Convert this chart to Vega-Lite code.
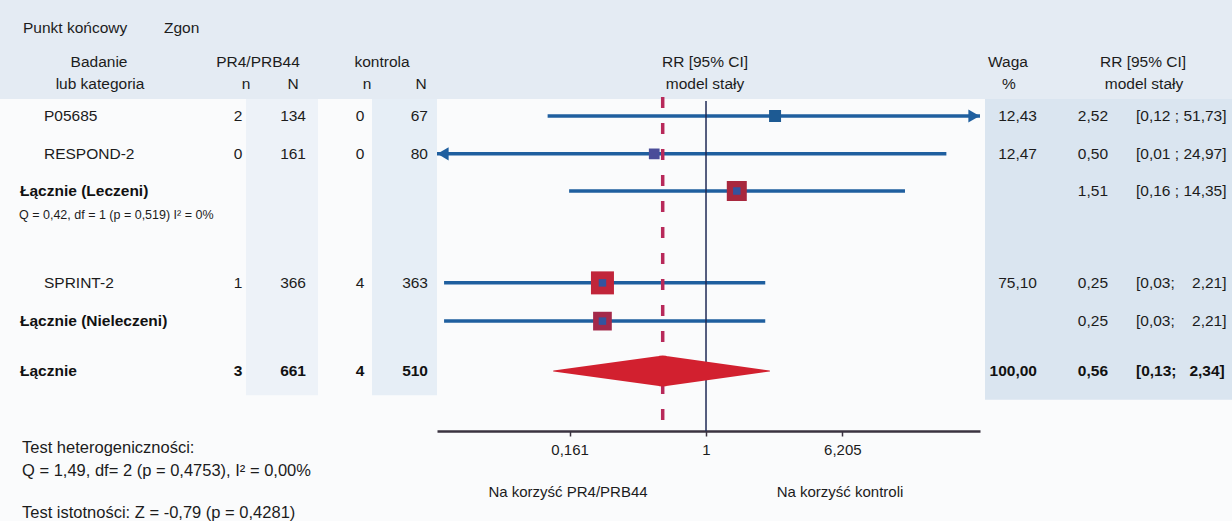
{
  "$schema": "https://vega.github.io/schema/vega-lite/v6.json",
  "width": 1232,
  "height": 521,
  "autosize": {"type": "none"},
  "padding": 0,
  "background": "#fafbfc",
  "config": {
    "view": {"stroke": null},
    "locale": {"number": {"decimal": ",", "thousands": "\u00a0", "grouping": [3], "currency": ["", " zł"]}},
    "text": {"font": "Liberation Sans", "fontSize": 15.5, "color": "#1c1c1c", "baseline": "middle"}
  },
  "datasets": {
    "rows": [
      {"label": "P05685", "kind": "study", "pos": 1, "n1": 2, "N1": 134, "n2": 0, "N2": 67, "w": 12.43, "rr": 2.52, "lo": 0.12, "hi": 51.73, "ci": "[0,12 ; 51,73]"},
      {"label": "RESPOND-2", "kind": "study", "pos": 2.01, "n1": 0, "N1": 161, "n2": 0, "N2": 80, "w": 12.47, "rr": 0.50, "lo": 0.01, "hi": 24.97, "ci": "[0,01 ; 24,97]"},
      {"label": "Łącznie (Leczeni)", "kind": "sub", "pos": 3, "rr": 1.51, "lo": 0.16, "hi": 14.35, "ci": "[0,16 ; 14,35]"},
      {"label": "SPRINT-2", "kind": "study", "pos": 5.45, "n1": 1, "N1": 366, "n2": 4, "N2": 363, "w": 75.10, "rr": 0.25, "lo": 0.03, "hi": 2.21, "ci": "[0,03;\u00a0\u00a0\u00a0\u00a02,21]"},
      {"label": "Łącznie (Nieleczeni)", "kind": "sub", "pos": 6.47, "rr": 0.25, "lo": 0.03, "hi": 2.21, "ci": "[0,03;\u00a0\u00a0\u00a0\u00a02,21]"},
      {"label": "Łącznie", "kind": "total", "pos": 7.8, "n1": 3, "N1": 661, "n2": 4, "N2": 510, "w": 100.00, "rr": 0.56, "lo": 0.13, "hi": 2.34, "ci": "[0,13;\u00a0\u00a0\u00a02,34]"}
    ]
  },
  "data": {"name": "rows"},
  "resolve": {"scale": {"x": "independent", "size": "independent", "color": "independent"}, "axis": {"x": "independent"}},
  "layer": [
    {"data": {"values": [{}]}, "mark": {"type": "rect", "fill": "#e4ebf3"},
     "encoding": {"x": {"datum": 0, "type": "quantitative", "scale": {"domain": [0, 1232], "nice": false, "zero": false}, "axis": null}, "x2": {"datum": 1232},
                  "y": {"datum": -2.0933, "type": "quantitative", "scale": {"domain": [-2.0933, 11.8], "reverse": true, "nice": false, "zero": false}, "axis": null}, "y2": {"datum": 0.55}}},
    {"data": {"values": [{}]}, "mark": {"type": "rect", "fill": "#dae5f0"},
     "encoding": {"x": {"datum": 985, "type": "quantitative", "scale": {"domain": [0, 1232], "nice": false, "zero": false}, "axis": null}, "x2": {"datum": 1232},
                  "y": {"datum": 0.55, "type": "quantitative", "scale": {"domain": [-2.0933, 11.8], "reverse": true, "nice": false, "zero": false}, "axis": null}, "y2": {"datum": 8.57}}},
    {"data": {"values": [{}]}, "mark": {"type": "rect", "fill": "#edf2f8"},
     "encoding": {"x": {"datum": 246, "type": "quantitative", "scale": {"domain": [0, 1232], "nice": false, "zero": false}, "axis": null}, "x2": {"datum": 318},
                  "y": {"datum": 0.55, "type": "quantitative", "scale": {"domain": [-2.0933, 11.8], "reverse": true, "nice": false, "zero": false}, "axis": null}, "y2": {"datum": 8.45}}},
    {"data": {"values": [{}]}, "mark": {"type": "rect", "fill": "#e6eef6"},
     "encoding": {"x": {"datum": 372, "type": "quantitative", "scale": {"domain": [0, 1232], "nice": false, "zero": false}, "axis": null}, "x2": {"datum": 437},
                  "y": {"datum": 0.55, "type": "quantitative", "scale": {"domain": [-2.0933, 11.8], "reverse": true, "nice": false, "zero": false}, "axis": null}, "y2": {"datum": 8.45}}},

    {"data": {"values": [{}]}, "mark": {"type": "text", "text": "Punkt końcowy", "align": "left"},
     "encoding": {"x": {"datum": 23, "type": "quantitative", "scale": {"domain": [0, 1232], "nice": false, "zero": false}, "axis": null},
                  "y": {"datum": -1.3467, "type": "quantitative", "scale": {"domain": [-2.0933, 11.8], "reverse": true, "nice": false, "zero": false}, "axis": null}}},
    {"data": {"values": [{}]}, "mark": {"type": "text", "text": "Zgon", "align": "left"},
     "encoding": {"x": {"datum": 164, "type": "quantitative", "scale": {"domain": [0, 1232], "nice": false, "zero": false}, "axis": null},
                  "y": {"datum": -1.3467, "type": "quantitative", "scale": {"domain": [-2.0933, 11.8], "reverse": true, "nice": false, "zero": false}, "axis": null}}},
    {"data": {"values": [{}]}, "mark": {"type": "text", "text": "Badanie", "align": "center"},
     "encoding": {"x": {"datum": 99, "type": "quantitative", "scale": {"domain": [0, 1232], "nice": false, "zero": false}, "axis": null},
                  "y": {"datum": -0.44, "type": "quantitative", "scale": {"domain": [-2.0933, 11.8], "reverse": true, "nice": false, "zero": false}, "axis": null}}},
    {"data": {"values": [{}]}, "mark": {"type": "text", "text": "lub kategoria", "align": "center"},
     "encoding": {"x": {"datum": 100, "type": "quantitative", "scale": {"domain": [0, 1232], "nice": false, "zero": false}, "axis": null},
                  "y": {"datum": 0.1467, "type": "quantitative", "scale": {"domain": [-2.0933, 11.8], "reverse": true, "nice": false, "zero": false}, "axis": null}}},
    {"data": {"values": [{}]}, "mark": {"type": "text", "text": "PR4/PRB44", "align": "center"},
     "encoding": {"x": {"datum": 258, "type": "quantitative", "scale": {"domain": [0, 1232], "nice": false, "zero": false}, "axis": null},
                  "y": {"datum": -0.44, "type": "quantitative", "scale": {"domain": [-2.0933, 11.8], "reverse": true, "nice": false, "zero": false}, "axis": null}}},
    {"data": {"values": [{}]}, "mark": {"type": "text", "text": "kontrola", "align": "center"},
     "encoding": {"x": {"datum": 382, "type": "quantitative", "scale": {"domain": [0, 1232], "nice": false, "zero": false}, "axis": null},
                  "y": {"datum": -0.44, "type": "quantitative", "scale": {"domain": [-2.0933, 11.8], "reverse": true, "nice": false, "zero": false}, "axis": null}}},
    {"data": {"values": [{}]}, "mark": {"type": "text", "text": "n", "align": "center"},
     "encoding": {"x": {"datum": 246, "type": "quantitative", "scale": {"domain": [0, 1232], "nice": false, "zero": false}, "axis": null},
                  "y": {"datum": 0.1467, "type": "quantitative", "scale": {"domain": [-2.0933, 11.8], "reverse": true, "nice": false, "zero": false}, "axis": null}}},
    {"data": {"values": [{}]}, "mark": {"type": "text", "text": "N", "align": "center"},
     "encoding": {"x": {"datum": 293, "type": "quantitative", "scale": {"domain": [0, 1232], "nice": false, "zero": false}, "axis": null},
                  "y": {"datum": 0.1467, "type": "quantitative", "scale": {"domain": [-2.0933, 11.8], "reverse": true, "nice": false, "zero": false}, "axis": null}}},
    {"data": {"values": [{}]}, "mark": {"type": "text", "text": "n", "align": "center"},
     "encoding": {"x": {"datum": 367, "type": "quantitative", "scale": {"domain": [0, 1232], "nice": false, "zero": false}, "axis": null},
                  "y": {"datum": 0.1467, "type": "quantitative", "scale": {"domain": [-2.0933, 11.8], "reverse": true, "nice": false, "zero": false}, "axis": null}}},
    {"data": {"values": [{}]}, "mark": {"type": "text", "text": "N", "align": "center"},
     "encoding": {"x": {"datum": 421, "type": "quantitative", "scale": {"domain": [0, 1232], "nice": false, "zero": false}, "axis": null},
                  "y": {"datum": 0.1467, "type": "quantitative", "scale": {"domain": [-2.0933, 11.8], "reverse": true, "nice": false, "zero": false}, "axis": null}}},
    {"data": {"values": [{}]}, "mark": {"type": "text", "text": "RR [95% CI]", "align": "center"},
     "encoding": {"x": {"datum": 705, "type": "quantitative", "scale": {"domain": [0, 1232], "nice": false, "zero": false}, "axis": null},
                  "y": {"datum": -0.44, "type": "quantitative", "scale": {"domain": [-2.0933, 11.8], "reverse": true, "nice": false, "zero": false}, "axis": null}}},
    {"data": {"values": [{}]}, "mark": {"type": "text", "text": "model stały", "align": "center"},
     "encoding": {"x": {"datum": 705, "type": "quantitative", "scale": {"domain": [0, 1232], "nice": false, "zero": false}, "axis": null},
                  "y": {"datum": 0.1467, "type": "quantitative", "scale": {"domain": [-2.0933, 11.8], "reverse": true, "nice": false, "zero": false}, "axis": null}}},
    {"data": {"values": [{}]}, "mark": {"type": "text", "text": "Waga", "align": "center"},
     "encoding": {"x": {"datum": 1008, "type": "quantitative", "scale": {"domain": [0, 1232], "nice": false, "zero": false}, "axis": null},
                  "y": {"datum": -0.44, "type": "quantitative", "scale": {"domain": [-2.0933, 11.8], "reverse": true, "nice": false, "zero": false}, "axis": null}}},
    {"data": {"values": [{}]}, "mark": {"type": "text", "text": "%", "align": "center"},
     "encoding": {"x": {"datum": 1009, "type": "quantitative", "scale": {"domain": [0, 1232], "nice": false, "zero": false}, "axis": null},
                  "y": {"datum": 0.1467, "type": "quantitative", "scale": {"domain": [-2.0933, 11.8], "reverse": true, "nice": false, "zero": false}, "axis": null}}},
    {"data": {"values": [{}]}, "mark": {"type": "text", "text": "RR [95% CI]", "align": "center"},
     "encoding": {"x": {"datum": 1143, "type": "quantitative", "scale": {"domain": [0, 1232], "nice": false, "zero": false}, "axis": null},
                  "y": {"datum": -0.44, "type": "quantitative", "scale": {"domain": [-2.0933, 11.8], "reverse": true, "nice": false, "zero": false}, "axis": null}}},
    {"data": {"values": [{}]}, "mark": {"type": "text", "text": "model stały", "align": "center"},
     "encoding": {"x": {"datum": 1144, "type": "quantitative", "scale": {"domain": [0, 1232], "nice": false, "zero": false}, "axis": null},
                  "y": {"datum": 0.1467, "type": "quantitative", "scale": {"domain": [-2.0933, 11.8], "reverse": true, "nice": false, "zero": false}, "axis": null}}},
    {"data": {"values": [{}]}, "mark": {"type": "text", "text": "Q = 0,42, df = 1 (p = 0,519) I² = 0%", "align": "left", "fontSize": 12.5},
     "encoding": {"x": {"datum": 19, "type": "quantitative", "scale": {"domain": [0, 1232], "nice": false, "zero": false}, "axis": null},
                  "y": {"datum": 3.64, "type": "quantitative", "scale": {"domain": [-2.0933, 11.8], "reverse": true, "nice": false, "zero": false}, "axis": null}}},
    {"data": {"values": [{}]}, "mark": {"type": "text", "text": "Test heterogeniczności:", "align": "left", "fontSize": 16.5},
     "encoding": {"x": {"datum": 22, "type": "quantitative", "scale": {"domain": [0, 1232], "nice": false, "zero": false}, "axis": null},
                  "y": {"datum": 9.853, "type": "quantitative", "scale": {"domain": [-2.0933, 11.8], "reverse": true, "nice": false, "zero": false}, "axis": null}}},
    {"data": {"values": [{}]}, "mark": {"type": "text", "text": "Q = 1,49, df= 2 (p = 0,4753), I² = 0,00%", "align": "left", "fontSize": 16.5},
     "encoding": {"x": {"datum": 22, "type": "quantitative", "scale": {"domain": [0, 1232], "nice": false, "zero": false}, "axis": null},
                  "y": {"datum": 10.467, "type": "quantitative", "scale": {"domain": [-2.0933, 11.8], "reverse": true, "nice": false, "zero": false}, "axis": null}}},
    {"data": {"values": [{}]}, "mark": {"type": "text", "text": "Test istotności: Z = -0,79 (p = 0,4281)", "align": "left", "fontSize": 16.5},
     "encoding": {"x": {"datum": 22, "type": "quantitative", "scale": {"domain": [0, 1232], "nice": false, "zero": false}, "axis": null},
                  "y": {"datum": 11.587, "type": "quantitative", "scale": {"domain": [-2.0933, 11.8], "reverse": true, "nice": false, "zero": false}, "axis": null}}},
    {"data": {"values": [{}]}, "mark": {"type": "text", "text": "Na korzyść PR4/PRB44", "align": "center", "fontSize": 15},
     "encoding": {"x": {"datum": 568, "type": "quantitative", "scale": {"domain": [0, 1232], "nice": false, "zero": false}, "axis": null},
                  "y": {"datum": 11.027, "type": "quantitative", "scale": {"domain": [-2.0933, 11.8], "reverse": true, "nice": false, "zero": false}, "axis": null}}},
    {"data": {"values": [{}]}, "mark": {"type": "text", "text": "Na korzyść kontroli", "align": "center", "fontSize": 15},
     "encoding": {"x": {"datum": 840, "type": "quantitative", "scale": {"domain": [0, 1232], "nice": false, "zero": false}, "axis": null},
                  "y": {"datum": 11.027, "type": "quantitative", "scale": {"domain": [-2.0933, 11.8], "reverse": true, "nice": false, "zero": false}, "axis": null}}},

    {"transform": [{"filter": "datum.kind == 'study'"}], "mark": {"type": "text", "align": "left"},
     "encoding": {"text": {"field": "label"}, "x": {"datum": 44, "type": "quantitative", "scale": {"domain": [0, 1232], "nice": false, "zero": false}, "axis": null},
                  "y": {"field": "pos", "type": "quantitative", "scale": {"domain": [-2.0933, 11.8], "reverse": true, "nice": false, "zero": false}, "axis": null}}},
    {"transform": [{"filter": "datum.kind != 'study'"}], "mark": {"type": "text", "align": "left", "fontWeight": "bold", "color": "#111111"},
     "encoding": {"text": {"field": "label"}, "x": {"datum": 20, "type": "quantitative", "scale": {"domain": [0, 1232], "nice": false, "zero": false}, "axis": null},
                  "y": {"field": "pos", "type": "quantitative", "scale": {"domain": [-2.0933, 11.8], "reverse": true, "nice": false, "zero": false}, "axis": null}}},

    {"transform": [{"filter": "datum.kind == 'study'"}], "mark": {"type": "text", "align": "center"},
     "encoding": {"text": {"field": "n1", "type": "quantitative", "format": "d"}, "x": {"datum": 238, "type": "quantitative", "scale": {"domain": [0, 1232], "nice": false, "zero": false}, "axis": null},
                  "y": {"field": "pos", "type": "quantitative", "scale": {"domain": [-2.0933, 11.8], "reverse": true, "nice": false, "zero": false}, "axis": null}}},
    {"transform": [{"filter": "datum.kind == 'study'"}], "mark": {"type": "text", "align": "right"},
     "encoding": {"text": {"field": "N1", "type": "quantitative", "format": "d"}, "x": {"datum": 306, "type": "quantitative", "scale": {"domain": [0, 1232], "nice": false, "zero": false}, "axis": null},
                  "y": {"field": "pos", "type": "quantitative", "scale": {"domain": [-2.0933, 11.8], "reverse": true, "nice": false, "zero": false}, "axis": null}}},
    {"transform": [{"filter": "datum.kind == 'study'"}], "mark": {"type": "text", "align": "center"},
     "encoding": {"text": {"field": "n2", "type": "quantitative", "format": "d"}, "x": {"datum": 360, "type": "quantitative", "scale": {"domain": [0, 1232], "nice": false, "zero": false}, "axis": null},
                  "y": {"field": "pos", "type": "quantitative", "scale": {"domain": [-2.0933, 11.8], "reverse": true, "nice": false, "zero": false}, "axis": null}}},
    {"transform": [{"filter": "datum.kind == 'study'"}], "mark": {"type": "text", "align": "right"},
     "encoding": {"text": {"field": "N2", "type": "quantitative", "format": "d"}, "x": {"datum": 428, "type": "quantitative", "scale": {"domain": [0, 1232], "nice": false, "zero": false}, "axis": null},
                  "y": {"field": "pos", "type": "quantitative", "scale": {"domain": [-2.0933, 11.8], "reverse": true, "nice": false, "zero": false}, "axis": null}}},

    {"transform": [{"filter": "datum.kind == 'total'"}], "mark": {"type": "text", "align": "center", "fontWeight": "bold", "color": "#111111"},
     "encoding": {"text": {"field": "n1", "type": "quantitative", "format": "d"}, "x": {"datum": 238, "type": "quantitative", "scale": {"domain": [0, 1232], "nice": false, "zero": false}, "axis": null},
                  "y": {"field": "pos", "type": "quantitative", "scale": {"domain": [-2.0933, 11.8], "reverse": true, "nice": false, "zero": false}, "axis": null}}},
    {"transform": [{"filter": "datum.kind == 'total'"}], "mark": {"type": "text", "align": "right", "fontWeight": "bold", "color": "#111111"},
     "encoding": {"text": {"field": "N1", "type": "quantitative", "format": "d"}, "x": {"datum": 306, "type": "quantitative", "scale": {"domain": [0, 1232], "nice": false, "zero": false}, "axis": null},
                  "y": {"field": "pos", "type": "quantitative", "scale": {"domain": [-2.0933, 11.8], "reverse": true, "nice": false, "zero": false}, "axis": null}}},
    {"transform": [{"filter": "datum.kind == 'total'"}], "mark": {"type": "text", "align": "center", "fontWeight": "bold", "color": "#111111"},
     "encoding": {"text": {"field": "n2", "type": "quantitative", "format": "d"}, "x": {"datum": 360, "type": "quantitative", "scale": {"domain": [0, 1232], "nice": false, "zero": false}, "axis": null},
                  "y": {"field": "pos", "type": "quantitative", "scale": {"domain": [-2.0933, 11.8], "reverse": true, "nice": false, "zero": false}, "axis": null}}},
    {"transform": [{"filter": "datum.kind == 'total'"}], "mark": {"type": "text", "align": "right", "fontWeight": "bold", "color": "#111111"},
     "encoding": {"text": {"field": "N2", "type": "quantitative", "format": "d"}, "x": {"datum": 428, "type": "quantitative", "scale": {"domain": [0, 1232], "nice": false, "zero": false}, "axis": null},
                  "y": {"field": "pos", "type": "quantitative", "scale": {"domain": [-2.0933, 11.8], "reverse": true, "nice": false, "zero": false}, "axis": null}}},

    {"transform": [{"filter": "datum.kind == 'study'"}], "mark": {"type": "text", "align": "right"},
     "encoding": {"text": {"field": "w", "type": "quantitative", "format": ".2f"}, "x": {"datum": 1037, "type": "quantitative", "scale": {"domain": [0, 1232], "nice": false, "zero": false}, "axis": null},
                  "y": {"field": "pos", "type": "quantitative", "scale": {"domain": [-2.0933, 11.8], "reverse": true, "nice": false, "zero": false}, "axis": null}}},
    {"transform": [{"filter": "datum.kind != 'total'"}], "mark": {"type": "text", "align": "right"},
     "encoding": {"text": {"field": "rr", "type": "quantitative", "format": ".2f"}, "x": {"datum": 1108, "type": "quantitative", "scale": {"domain": [0, 1232], "nice": false, "zero": false}, "axis": null},
                  "y": {"field": "pos", "type": "quantitative", "scale": {"domain": [-2.0933, 11.8], "reverse": true, "nice": false, "zero": false}, "axis": null}}},
    {"transform": [{"filter": "datum.kind != 'total'"}], "mark": {"type": "text", "align": "left"},
     "encoding": {"text": {"field": "ci"}, "x": {"datum": 1136, "type": "quantitative", "scale": {"domain": [0, 1232], "nice": false, "zero": false}, "axis": null},
                  "y": {"field": "pos", "type": "quantitative", "scale": {"domain": [-2.0933, 11.8], "reverse": true, "nice": false, "zero": false}, "axis": null}}},

    {"transform": [{"filter": "datum.kind == 'total'"}], "mark": {"type": "text", "align": "right", "fontWeight": "bold", "color": "#111111"},
     "encoding": {"text": {"field": "w", "type": "quantitative", "format": ".2f"}, "x": {"datum": 1037, "type": "quantitative", "scale": {"domain": [0, 1232], "nice": false, "zero": false}, "axis": null},
                  "y": {"field": "pos", "type": "quantitative", "scale": {"domain": [-2.0933, 11.8], "reverse": true, "nice": false, "zero": false}, "axis": null}}},
    {"transform": [{"filter": "datum.kind == 'total'"}], "mark": {"type": "text", "align": "right", "fontWeight": "bold", "color": "#111111"},
     "encoding": {"text": {"field": "rr", "type": "quantitative", "format": ".2f"}, "x": {"datum": 1108, "type": "quantitative", "scale": {"domain": [0, 1232], "nice": false, "zero": false}, "axis": null},
                  "y": {"field": "pos", "type": "quantitative", "scale": {"domain": [-2.0933, 11.8], "reverse": true, "nice": false, "zero": false}, "axis": null}}},
    {"transform": [{"filter": "datum.kind == 'total'"}], "mark": {"type": "text", "align": "left", "fontWeight": "bold", "color": "#111111"},
     "encoding": {"text": {"field": "ci"}, "x": {"datum": 1136, "type": "quantitative", "scale": {"domain": [0, 1232], "nice": false, "zero": false}, "axis": null},
                  "y": {"field": "pos", "type": "quantitative", "scale": {"domain": [-2.0933, 11.8], "reverse": true, "nice": false, "zero": false}, "axis": null}}},

    {"transform": [{"filter": "datum.kind != 'total'"}], "mark": {"type": "rule", "color": "#1f5f9f", "strokeWidth": 3.5},
     "encoding": {"x": {"field": "lo", "type": "quantitative", "scale": {"type": "log", "domain": [0.02729, 39.17], "range": [437, 980], "clamp": true, "nice": false},
                        "axis": {"orient": "bottom", "offset": -90, "values": [0.161, 1, 6.205], "labelExpr": "replace(format(datum.value, '.4~g'), '.', ',')", "title": null, "grid": false,
                                 "domainColor": "#3a3340", "domainWidth": 2.5, "tickColor": "#3a3340", "tickWidth": 1.5, "tickSize": 5,
                                 "labelFont": "Liberation Sans", "labelFontSize": 15, "labelColor": "#1c1c1c", "labelPadding": 6, "labelFlush": false, "labelOverlap": false}},
                  "x2": {"field": "hi"},
                  "y": {"field": "pos", "type": "quantitative", "scale": {"domain": [-2.0933, 11.8], "reverse": true, "nice": false, "zero": false}, "axis": null}}},
    {"data": {"values": [{}]}, "mark": {"type": "rule", "color": "#1e2a55", "strokeWidth": 1.5},
     "encoding": {"x": {"datum": 1, "type": "quantitative", "scale": {"type": "log", "domain": [0.02729, 39.17], "range": [437, 980], "clamp": true, "nice": false}, "axis": null},
                  "y": {"datum": 0.6, "type": "quantitative", "scale": {"domain": [-2.0933, 11.8], "reverse": true, "nice": false, "zero": false}, "axis": null}, "y2": {"datum": 9.4}}},
    {"transform": [{"filter": "datum.kind == 'total'"}], "mark": {"type": "rule", "color": "#b8295a", "strokeWidth": 3.5, "strokeDash": [11, 15]},
     "encoding": {"x": {"field": "rr", "type": "quantitative", "scale": {"type": "log", "domain": [0.02729, 39.17], "range": [437, 980], "clamp": true, "nice": false}, "axis": null},
                  "y": {"datum": 0.493, "type": "quantitative", "scale": {"domain": [-2.0933, 11.8], "reverse": true, "nice": false, "zero": false}, "axis": null}, "y2": {"datum": 9.107}}},
    {"transform": [{"filter": "datum.hi > 39.17"}], "mark": {"type": "point", "shape": "triangle-right", "filled": true, "opacity": 1, "color": "#1f5f9f", "size": 170, "xOffset": -6},
     "encoding": {"x": {"field": "hi", "type": "quantitative", "scale": {"type": "log", "domain": [0.02729, 39.17], "range": [437, 980], "clamp": true, "nice": false}, "axis": null},
                  "y": {"field": "pos", "type": "quantitative", "scale": {"domain": [-2.0933, 11.8], "reverse": true, "nice": false, "zero": false}, "axis": null}}},
    {"transform": [{"filter": "datum.lo < 0.02729"}], "mark": {"type": "point", "shape": "triangle-left", "filled": true, "opacity": 1, "color": "#1f5f9f", "size": 170, "xOffset": 6},
     "encoding": {"x": {"field": "lo", "type": "quantitative", "scale": {"type": "log", "domain": [0.02729, 39.17], "range": [437, 980], "clamp": true, "nice": false}, "axis": null},
                  "y": {"field": "pos", "type": "quantitative", "scale": {"domain": [-2.0933, 11.8], "reverse": true, "nice": false, "zero": false}, "axis": null}}},
    {"transform": [{"filter": "datum.kind != 'total'"}], "mark": {"type": "point", "shape": "square", "filled": true, "opacity": 1},
     "encoding": {"x": {"field": "rr", "type": "quantitative", "scale": {"type": "log", "domain": [0.02729, 39.17], "range": [437, 980], "clamp": true, "nice": false}, "axis": null},
                  "y": {"field": "pos", "type": "quantitative", "scale": {"domain": [-2.0933, 11.8], "reverse": true, "nice": false, "zero": false}, "axis": null},
                  "color": {"field": "label", "type": "nominal", "legend": null,
                            "scale": {"domain": ["P05685", "RESPOND-2", "Łącznie (Leczeni)", "SPRINT-2", "Łącznie (Nieleczeni)"], "range": ["#1d5a93", "#4a4d99", "#a8283e", "#c1253a", "#a4294a"]}},
                  "size": {"field": "label", "type": "nominal", "legend": null,
                           "scale": {"type": "ordinal", "domain": ["P05685", "RESPOND-2", "Łącznie (Leczeni)", "SPRINT-2", "Łącznie (Nieleczeni)"], "range": [144, 115, 400, 529, 350]}}}},
    {"transform": [{"filter": "datum.kind == 'sub' || datum.label == 'SPRINT-2'"}], "mark": {"type": "point", "shape": "square", "filled": true, "opacity": 1, "color": "#33549f", "size": 56},
     "encoding": {"x": {"field": "rr", "type": "quantitative", "scale": {"type": "log", "domain": [0.02729, 39.17], "range": [437, 980], "clamp": true, "nice": false}, "axis": null},
                  "y": {"field": "pos", "type": "quantitative", "scale": {"domain": [-2.0933, 11.8], "reverse": true, "nice": false, "zero": false}, "axis": null}}},
    {"transform": [{"filter": "datum.kind == 'total'"}, {"fold": ["lo", "rr", "hi"], "as": ["k", "v"]}],
     "mark": {"type": "trail", "color": "#d2202f"},
     "encoding": {"x": {"field": "v", "type": "quantitative", "scale": {"type": "log", "domain": [0.02729, 39.17], "range": [437, 980], "clamp": true, "nice": false}, "axis": null},
                  "y": {"field": "pos", "type": "quantitative", "scale": {"domain": [-2.0933, 11.8], "reverse": true, "nice": false, "zero": false}, "axis": null},
                  "order": {"field": "v", "type": "quantitative"},
                  "size": {"field": "k", "type": "nominal", "legend": null, "scale": {"type": "ordinal", "domain": ["lo", "rr", "hi"], "range": [0, 31, 0]}}}}
  ]
}
